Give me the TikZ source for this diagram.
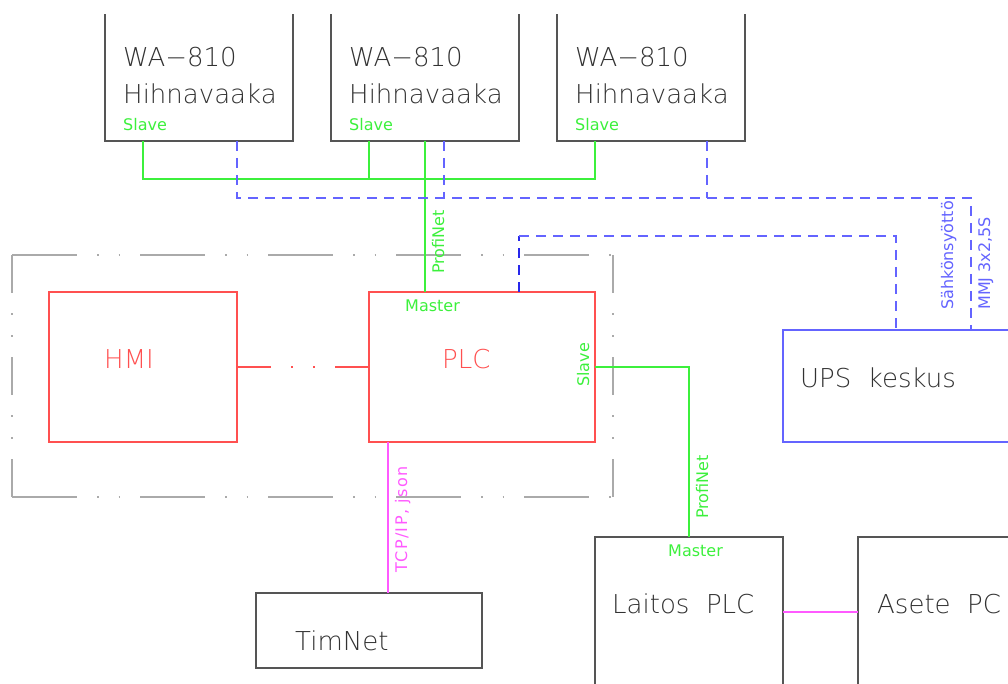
\documentclass[tikz,border=0pt]{standalone}
\usepackage{fontspec}
\setmainfont{DejaVu Sans ExtraLight}[WordSpace=2]
\newfontfamily\lblfont{DejaVu Sans}
\usetikzlibrary{calc}
\definecolor{boxgray}{RGB}{85,85,85}
\definecolor{txtgray}{RGB}{50,50,50}
\definecolor{netgreen}{RGB}{60,240,60}
\definecolor{pwrblue}{RGB}{100,100,255}
\definecolor{pwrdark}{RGB}{40,40,235}
\definecolor{hmired}{RGB}{255,80,80}
\definecolor{ipmag}{RGB}{255,90,255}
\definecolor{grpgray}{RGB}{170,170,170}
\tikzset{
  blk/.style={draw=boxgray,line width=1.2pt,minimum width=#1,inner sep=0pt,outer sep=0pt},
  redbox/.style={draw=hmired,line width=1.2pt,inner sep=0pt,outer sep=0pt},
  bigtxt/.style={font=\fontsize{26}{30}\selectfont,text=txtgray,inner sep=0pt,anchor=base west},
  redtxt/.style={font=\fontsize{26}{30}\selectfont,text=hmired,inner sep=0pt,anchor=base west},
  lbl/.style={font=\lblfont\fontsize{16}{18}\selectfont,inner sep=0pt,anchor=base west},
  vlbl/.style={lbl,rotate=90},
  gline/.style={draw=netgreen,line width=1.1pt},
  bdash/.style={draw=pwrblue,line width=1.1pt,dash pattern=on 10pt off 7pt},
  mline/.style={draw=ipmag,line width=1.2pt},
  grph/.style={draw=grpgray,line width=1.1pt,dash pattern=on 65pt off 20pt on 1.5pt off 20pt on 1.5pt off 20pt},
  grpv/.style={draw=grpgray,line width=1.1pt,dash pattern=on 38pt off 20pt on 2pt off 20pt on 2pt off 20pt},
  hmiline/.style={draw=hmired,line width=1.1pt,dash pattern=on 34pt off 20pt on 2pt off 20pt on 2pt off 20pt},
}
\begin{document}
\begin{tikzpicture}[x=1pt,y=-1pt]
\useasboundingbox (0,0) rectangle (1008,684);
\clip (0,15) rectangle (1008,684);
% group frame
\coordinate (gtl) at (12,255);
\coordinate (gbr) at (613,497);
\draw[grph] (gtl) -- (gtl -| gbr);
\draw[grph] (gtl |- gbr) -- (gbr);
\draw[grpv] (gtl) -- (gtl |- gbr);
\draw[grpv] (gtl -| gbr) -- (gbr);
% weighing units
\node[blk=188pt,minimum height=161pt] (wa1) at (199,60.5) {};
\node[blk=188pt,minimum height=161pt] (wa2) at (425,60.5) {};
\node[blk=188pt,minimum height=161pt] (wa3) at (651,60.5) {};
\foreach \i/\x in {1/123,2/349,3/575}{
  \node[bigtxt] (wat\i) at (\x,67) {WA−810};
  \node[bigtxt] (wah\i) at (\x,104) {Hihnavaaka};
  \node[lbl,text=netgreen] (was\i) at (\x,131) {Slave};
}
% HMI and PLC
\node[redbox,minimum width=188pt,minimum height=150pt] (hmi) at (143,367) {};
\node[redbox,minimum width=226pt,minimum height=150pt] (plc) at (482,367) {};
\node[redtxt] (hmit) at (104,368) {HMI};
\node[redtxt] (plct) at (442,368) {PLC};
\node[lbl,text=netgreen] (plcm) at (405,312) {Master};
\node[vlbl,text=netgreen] (plcs) at (589,387) {Slave};
% UPS
\node[blk=257pt,minimum height=112pt,draw=pwrblue] (ups) at (911.5,386) {};
\node[bigtxt] (upst) at (800,387) {UPS keskus};
% TimNet
\node[blk=226pt,minimum height=75pt] (tim) at (369,630.5) {};
\node[bigtxt] (timt) at (295,650) {TimNet};
% Laitos PLC and Asete PC
\node[blk=188pt,minimum height=183pt] (lai) at (689,628.5) {};
\node[blk=188pt,minimum height=183pt] (ase) at (952,628.5) {};
\node[bigtxt] (lait) at (612,613) {Laitos PLC};
\node[bigtxt] (aset) at (877,613) {Asete PC};
\node[lbl,text=netgreen] (laim) at (668,556) {Master};
% ProfiNet bus (top)
\draw[gline] ($(wa1.south west)+(38,0)$) -- ($(wa1.south west)+(38,38)$) -- ($(wa3.south west)+(38,38)$) -- ($(wa3.south west)+(38,0)$);
\draw[gline] ($(wa2.south west)+(38,0)$) -- ($(wa2.south west)+(38,38)$);
\coordinate (pm) at ($(plc.north west)+(56,0)$);
\draw[gline] (pm) -- (pm |- wa1.south) -- ++(0,38);
\node[vlbl,text=netgreen] (pn1) at (444,274) {ProfiNet};
% power feed
\coordinate (pw1) at ($(wa1.south west)+(132,0)$);
\coordinate (pw2) at ($(wa2.south west)+(113,0)$);
\coordinate (pw3) at ($(wa3.south west)+(150,0)$);
\coordinate (pwu) at ($(ups.north west)+(188,0)$);
\draw[bdash] (pw1) -- ++(0,57) -| (pwu);
\draw[bdash] (pw2) -- ++(0,57);
\draw[bdash] (pw3) -- ++(0,57);
\coordinate (pp) at ($(plc.north west)+(150,0)$);
\coordinate (pu2) at ($(ups.north west)+(113,0)$);
\draw[bdash,draw=pwrdark] (pp) -- ++(0,-56);
\draw[bdash] ($(pp)+(0,-56)$) -| (pu2);
\node[vlbl,text=pwrblue] (sah) at (953,310) {Sähkönsyöttö};
\node[vlbl,text=pwrblue] (mmj) at (990,310) {MMJ 3x2,5S};
% HMI - PLC
\draw[hmiline] (hmi.east) -- (plc.west);
% PLC slave - Laitos master
\draw[gline] (plc.east) -| (lai.north);
\node[vlbl,text=netgreen] (pn2) at (708,519) {ProfiNet};
% TCP/IP
\coordinate (pt) at ($(plc.south west)+(19,0)$);
\draw[mline] (pt) -- (pt |- tim.north);
\node[vlbl,text=ipmag,font=\lblfont\fontsize{16}{18}\selectfont\addfontfeature{LetterSpace=9}] (tcp) at (407,573) {TCP/IP, json};
% Laitos - Asete
\coordinate (la) at ($(lai.north east)+(0,75)$);
\draw[mline] (la) -- (la -| ase.west);
\end{tikzpicture}
\end{document}
